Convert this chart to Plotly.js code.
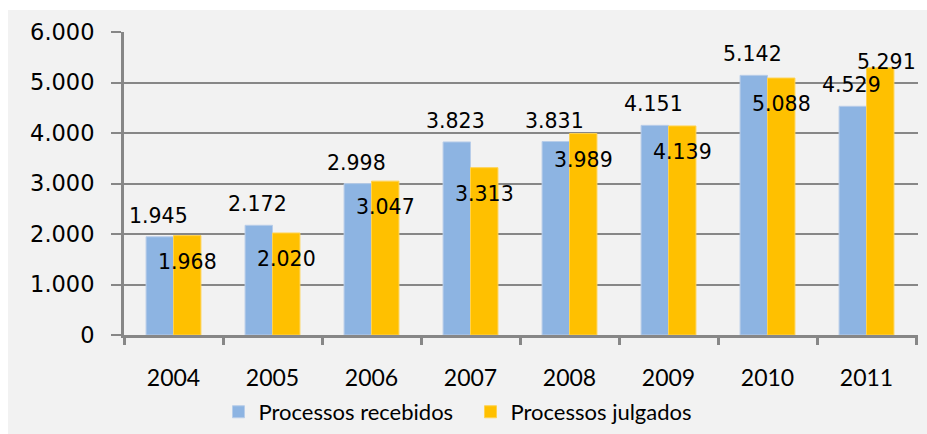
<!DOCTYPE html>
<html>
<head>
<meta charset="utf-8">
<script src="https://cdn.plot.ly/plotly-3.0.1.min.js"></script>
<style>
  html, body { margin: 0; padding: 0; background: #ffffff; }
  #chart { position: absolute; left: 8px; top: 10px; width: 919px; height: 424px; }
</style>
</head>
<body>
<div id="chart"></div>
<script>
// ---- Data ----
const years = ['2004', '2005', '2006', '2007', '2008', '2009', '2010', '2011'];
const recebidos = [1945, 2172, 2998, 3823, 3831, 4151, 5142, 4529];
const julgados = [1968, 2020, 3047, 3313, 3989, 4139, 5088, 5291];
const seriesNames = ['Processos recebidos', 'Processos julgados'];

// ---- Style ----
const colRecebidos = '#8db4e2';
const colJulgados = '#ffc000';
const gridCol = '#878787';
// label placement for the "julgados" values (true = placed above the bar)
const julgadosLabelAbove = [false, false, false, false, false, false, false, true];

const fmt = v => v.toLocaleString('pt-BR');

const traces = [
  {
    type: 'bar', name: seriesNames[0], x: years, y: recebidos,
    marker: { color: colRecebidos, line: { color: '#b8cde9', width: 1 } },
    hoverinfo: 'y'
  },
  {
    type: 'bar', name: seriesNames[1], x: years, y: julgados,
    marker: { color: colJulgados, line: { color: '#ffd250', width: 1 } },
    hoverinfo: 'y'
  }
];

const labelFont = { family: 'DejaVu Sans, Verdana, sans-serif', size: 20.5, color: '#000000' };
const annotations = [];
years.forEach((yr, i) => {
  annotations.push({
    x: i, y: recebidos[i], xref: 'x', yref: 'y', text: fmt(recebidos[i]),
    showarrow: false, xanchor: 'center', yanchor: 'middle',
    xshift: -15, yshift: 21, font: labelFont
  });
  const above = julgadosLabelAbove[i];
  annotations.push({
    x: i, y: julgados[i], xref: 'x', yref: 'y', text: fmt(julgados[i]),
    showarrow: false, xanchor: 'center', yanchor: 'middle',
    xshift: above ? 20 : 14, yshift: above ? 6 : -26, font: labelFont
  });
});

const layout = {
  width: 919, height: 424,
  margin: { l: 116, r: 9, t: 22, b: 99, autoexpand: false },
  paper_bgcolor: '#f2f2f2',
  plot_bgcolor: '#f2f2f2',
  separators: ',.',
  barmode: 'group',
  bargap: 0.446,
  bargroupgap: 0,
  showlegend: true,
  legend: {
    orientation: 'h', x: 0.119, xanchor: 'left', y: -0.254, yanchor: 'middle',
    font: { family: 'Lato, Liberation Sans, sans-serif', size: 22, color: '#000000' },
    bgcolor: 'rgba(0,0,0,0)', entrywidth: 207, itemwidth: 30
  },
  xaxis: {
    type: 'category',
    showline: true, linecolor: gridCol, linewidth: 3,
    ticks: 'outside', tickson: 'boundaries', ticklen: 7, tickwidth: 3, tickcolor: gridCol,
    tickfont: { family: 'Lato, Liberation Sans, sans-serif', size: 23, color: '#000000' },
    ticklabelstandoff: 20,
    showgrid: false, zeroline: false, fixedrange: true
  },
  yaxis: {
    range: [0, 6000], dtick: 1000, tick0: 0,
    tickformat: ',d',
    showline: true, linecolor: gridCol, linewidth: 3,
    ticks: 'outside', ticklen: 10, tickwidth: 2, tickcolor: gridCol,
    tickfont: { family: 'DejaVu Sans, Verdana, sans-serif', size: 22.5, color: '#000000' },
    ticklabelstandoff: 12,
    showgrid: true, gridcolor: gridCol, gridwidth: 2,
    zeroline: false, fixedrange: true
  },
  annotations: annotations
};

Plotly.newPlot('chart', traces, layout, { displayModeBar: false, staticPlot: true });
</script>
</body>
</html>
